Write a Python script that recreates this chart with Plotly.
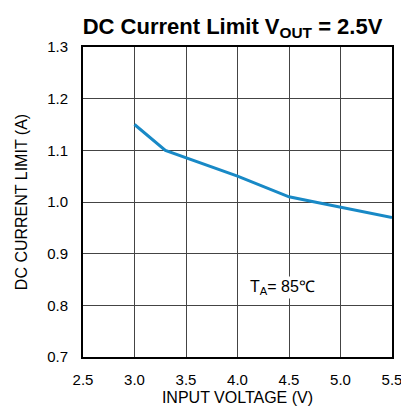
import plotly.graph_objects as go

vin = [3.0, 3.3, 4.0, 4.5, 4.75, 5.0, 5.5]
ilim = [1.15, 1.10, 1.05, 1.01, 1.0, 0.99, 0.97]
x_ticks = [2.5, 3.0, 3.5, 4.0, 4.5, 5.0, 5.5]
y_ticks = [0.7, 0.8, 0.9, 1.0, 1.1, 1.2, 1.3]

fig = go.Figure()
fig.add_trace(go.Scatter(x=vin, y=ilim, mode="lines",
                         line=dict(color="#1889c6", width=3), showlegend=False))

font = "Liberation Sans, Arial, sans-serif"
# page body has an 8px default margin, so the figure is sized to fit the window
fig.update_layout(
    width=401, height=402,
    margin=dict(l=75, r=17, t=39, b=53, autoexpand=False),
    paper_bgcolor="white", plot_bgcolor="white",
    font=dict(family=font, color="black", size=15),
    title=dict(text="<b>DC Current Limit V<sub>OUT</sub> = 2.5V</b>",
               x=0.56, xanchor="center", y=0.955, yanchor="middle",
               font=dict(size=22, family=font)),
)
fig.update_xaxes(range=[2.5, 5.5], tickvals=x_ticks,
                 ticktext=[f"{v:.1f}" for v in x_ticks],
                 tickfont=dict(size=15), ticklabelstandoff=8,
                 showgrid=True, gridcolor="#444", gridwidth=1,
                 showline=True, linecolor="black", linewidth=2, mirror=True,
                 ticks="", title=dict(text="INPUT VOLTAGE (V)", font=dict(size=16), standoff=5),
                 zeroline=False)
fig.update_yaxes(range=[0.7, 1.3], tickvals=y_ticks,
                 ticktext=[f"{v:.1f}" for v in y_ticks],
                 tickfont=dict(size=15), ticklabelstandoff=10,
                 showgrid=True, gridcolor="#444", gridwidth=1,
                 showline=True, linecolor="black", linewidth=2, mirror=True,
                 ticks="", title=dict(text="DC CURRENT LIMIT (A)", font=dict(size=16), standoff=16),
                 zeroline=False)
fig.add_annotation(x=4.44, y=0.835, text="T<sub>A</sub>= 85\u2103", showarrow=False,
                   font=dict(size=16, family=font), bgcolor="white")
fig.write_html("out.html")
